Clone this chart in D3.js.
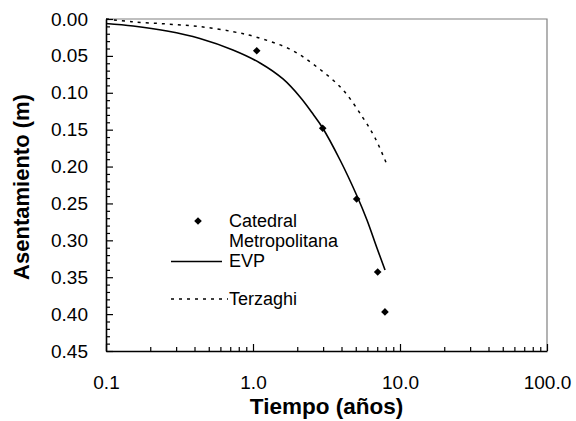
<!DOCTYPE html>
<html>
<head>
<meta charset="utf-8">
<script src="https://cdn.jsdelivr.net/npm/d3@7"></script>
<style>
  html, body { margin: 0; padding: 0; background: #fff; }
  svg { display: block; }
  text { font-family: "Liberation Sans", Arial, sans-serif; fill: #000; }
</style>
</head>
<body>
<svg id="chart" width="576" height="421"></svg>
<script>
// Settlement vs. time (log scale)
const yTicks = [0.00, 0.05, 0.10, 0.15, 0.20, 0.25, 0.30, 0.35, 0.40, 0.45];
const xTicks = [0.1, 1, 10, 100];

// Measured settlement, Catedral Metropolitana
const catedralT = [1.06, 2.98, 5.07, 7.05, 7.9];
const catedralS = [0.043, 0.148, 0.244, 0.343, 0.397];

// EVP model
const evpT = [0.1, 0.153, 0.26, 0.435, 0.73, 1.116, 1.60, 2.09, 2.56, 2.95, 3.91, 5.10, 5.96, 6.97, 7.91];
const evpS = [0.0061, 0.0095, 0.0163, 0.0264, 0.042, 0.0596, 0.0813, 0.1057, 0.1288, 0.1464, 0.1911, 0.2399, 0.2724, 0.3104, 0.3402];

// Terzaghi model
const terzT = [0.1, 0.15, 0.26, 0.44, 0.73, 1.03, 1.79, 2.72, 4.09, 5.6, 6.76, 8.17];
const terzS = [0.0, 0.0037, 0.0068, 0.0104, 0.0172, 0.024, 0.041, 0.065, 0.096, 0.134, 0.161, 0.198];

const legendLabels = [["Catedral", "Metropolitana"], ["EVP"], ["Terzaghi"]];

const svg = d3.select("#chart");
const plotL = 106, plotR = 547, plotT = 19, plotB = 351;

const x = d3.scaleLog().domain([0.1, 100]).range([plotL, plotR]);
const y = d3.scaleLinear().domain([0, 0.45]).range([plotT, plotB]);

// plot frame (top and right)
svg.append("path")
  .attr("d", `M${plotL},${plotT}H${plotR}V${plotB}`)
  .attr("fill", "none").attr("stroke", "#808080").attr("stroke-width", 1.2);

// y axis: major and minor ticks pointing inward
const yMinor = d3.range(0, 0.4501, 0.01).filter(v => Math.abs(v / 0.05 - Math.round(v / 0.05)) > 1e-6);
svg.append("g").attr("transform", `translate(${plotL},0)`)
  .call(d3.axisLeft(y).tickValues(yMinor).tickSize(-4).tickSizeOuter(0).tickFormat(""))
  .call(g => g.select(".domain").remove())
  .call(g => g.selectAll("line").attr("stroke", "#000").attr("stroke-width", 1.2));
const yAx = svg.append("g").attr("transform", `translate(${plotL},0)`)
  .call(d3.axisLeft(y).tickValues(yTicks).tickSize(-7).tickSizeOuter(0).tickPadding(18).tickFormat(d3.format(".2f")));
yAx.select(".domain").attr("stroke", "#000").attr("stroke-width", 1.6);
yAx.selectAll("line").attr("stroke", "#000").attr("stroke-width", 1.2);
yAx.selectAll("text").attr("font-size", 19).attr("font-family", "Liberation Sans, Arial, sans-serif");

// x axis: decades plus minor ticks
const xMinor = [];
for (let d = 0.1; d < 100; d *= 10) for (let k = 2; k <= 9; k++) xMinor.push(+(d * k).toPrecision(3));
svg.append("g").attr("transform", `translate(0,${plotB})`)
  .call(d3.axisBottom(x).tickValues(xMinor).tickSize(-4).tickSizeOuter(0).tickFormat(""))
  .call(g => g.select(".domain").remove())
  .call(g => g.selectAll("line").attr("stroke", "#000").attr("stroke-width", 1.2));
const xAx = svg.append("g").attr("transform", `translate(0,${plotB})`)
  .call(d3.axisBottom(x).tickValues(xTicks).tickSize(-7).tickSizeOuter(0).tickPadding(25).tickFormat(d3.format(".1f")));
xAx.select(".domain").attr("stroke", "#000").attr("stroke-width", 1.6);
xAx.selectAll("line").attr("stroke", "#000").attr("stroke-width", 1.2);
xAx.selectAll("text").attr("font-size", 19).attr("font-family", "Liberation Sans, Arial, sans-serif");

// axis titles
svg.append("text")
  .attr("x", (plotL + plotR) / 2).attr("y", 414)
  .attr("text-anchor", "middle").attr("font-size", 22.5).attr("font-weight", "bold")
  .text("Tiempo (años)");
svg.append("text")
  .attr("transform", `translate(29,${(plotT + plotB) / 2 + 2}) rotate(-90)`)
  .attr("text-anchor", "middle").attr("font-size", 22).attr("font-weight", "bold")
  .text("Asentamiento (m)");

// curves
const line = d3.line().x(d => x(d[0])).y(d => y(d[1])).curve(d3.curveCatmullRom.alpha(0.5));
svg.append("path")
  .datum(d3.zip(terzT, terzS))
  .attr("d", line)
  .attr("fill", "none").attr("stroke", "#000").attr("stroke-width", 1.5)
  .attr("stroke-dasharray", "3,5");
svg.append("path")
  .datum(d3.zip(evpT, evpS))
  .attr("d", line)
  .attr("fill", "none").attr("stroke", "#000").attr("stroke-width", 1.6);

// measured points as diamonds
const diamond = (cx, cy, r) => `M${cx},${cy - r}L${cx + r},${cy}L${cx},${cy + r}L${cx - r},${cy}Z`;
svg.append("g").selectAll("path")
  .data(d3.zip(catedralT, catedralS))
  .join("path")
  .attr("d", d => diamond(x(d[0]), y(d[1]), 3.8))
  .attr("fill", "#000");

// legend
const lg = svg.append("g").attr("font-size", 18);
lg.append("path").attr("d", diamond(198, 221, 3.8)).attr("fill", "#000");
lg.append("text").attr("x", 229).attr("y", 227).text(legendLabels[0][0]);
lg.append("text").attr("x", 229).attr("y", 247).text(legendLabels[0][1]);
lg.append("line").attr("x1", 171).attr("x2", 222).attr("y1", 261.5).attr("y2", 261.5)
  .attr("stroke", "#000").attr("stroke-width", 1.5);
lg.append("text").attr("x", 229).attr("y", 267).text(legendLabels[1][0]);
lg.append("line").attr("x1", 171).attr("x2", 228).attr("y1", 299).attr("y2", 299)
  .attr("stroke", "#000").attr("stroke-width", 1.5).attr("stroke-dasharray", "3,5");
lg.append("text").attr("x", 229).attr("y", 305).text(legendLabels[2][0]);
</script>
</body>
</html>
